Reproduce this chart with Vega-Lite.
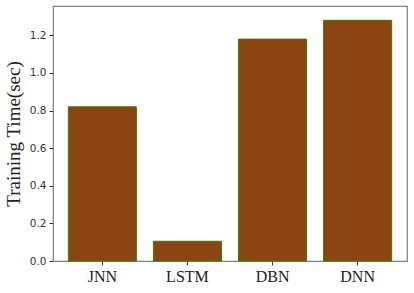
{
  "$schema": "https://vega.github.io/schema/vega-lite/v6.json",
  "width": 354,
  "height": 255,
  "autosize": {"type": "none"},
  "padding": {"left": 53, "top": 6, "right": 7, "bottom": 32},
  "background": "white",
  "config": {
    "view": {"stroke": "#808080", "strokeWidth": 1.2},
    "axis": {"grid": false, "domain": false}
  },
  "data": {
    "values": [
      {"model": "JNN", "time": 0.82},
      {"model": "LSTM", "time": 0.105},
      {"model": "DBN", "time": 1.18},
      {"model": "DNN", "time": 1.28}
    ]
  },
  "mark": {"type": "bar", "color": "#8B4513", "stroke": "#3a7d00", "strokeWidth": 1},
  "encoding": {
    "x": {
      "field": "model", "type": "nominal", "sort": null,
      "scale": {"paddingInner": 0.2, "paddingOuter": 0.18},
      "axis": {"title": null, "labelAngle": 0, "labelFont": "Liberation Serif", "labelFontSize": 16, "labelColor": "#222", "tickColor": "#333", "tickSize": 4, "labelPadding": 3}
    },
    "y": {
      "field": "time", "type": "quantitative",
      "scale": {"domain": [0, 1.356], "nice": false},
      "axis": {"title": "Training Time(sec)", "titleFont": "Liberation Serif", "titleFontSize": 19, "titleFontWeight": "normal", "titleColor": "#222", "titlePadding": 6, "values": [0, 0.2, 0.4, 0.6, 0.8, 1.0, 1.2], "format": ".1f", "labelFont": "DejaVu Sans", "labelFontSize": 10.5, "labelColor": "#333", "tickColor": "#333", "tickSize": 4, "labelPadding": 3}
    }
  }
}
